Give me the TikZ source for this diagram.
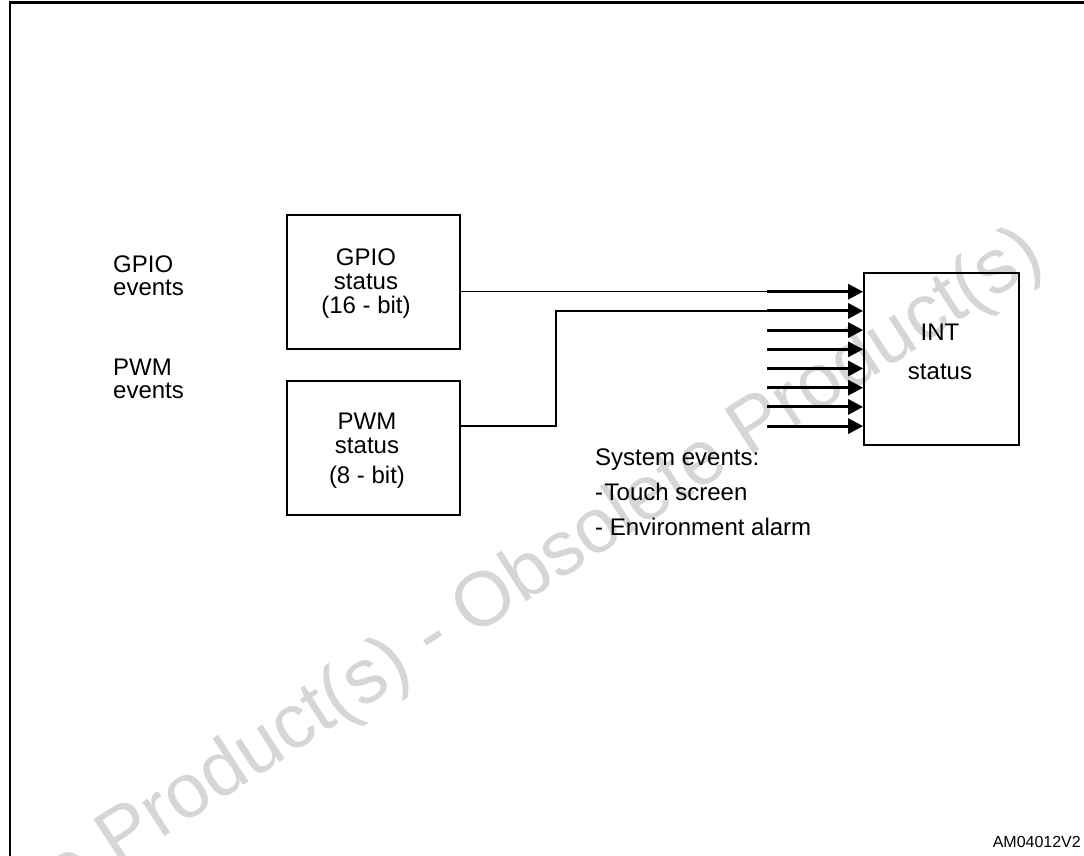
\documentclass[tikz,border=0pt]{standalone}
\usepackage{fontspec}
\setmainfont{Liberation Sans}
\usetikzlibrary{arrows.meta}
\begin{document}
\begin{tikzpicture}[x=1pt,y=-1pt,
  box/.style={draw,line width=1.8pt,minimum width=173pt,minimum height=134pt,inner sep=0pt},
  boxtext/.style={inner sep=0pt,align=center,font=\fontsize{24}{24}\selectfont},
  lbl/.style={inner sep=0pt,align=left,font=\fontsize{24}{23}\selectfont},
  thinline/.style={line width=1.4pt},
  evarrow/.style={line width=3pt,-{Triangle[length=15pt,width=15pt]}},
  wmark/.style={text=black!16,inner sep=0pt,font=\fontsize{77}{77}\selectfont}]
\useasboundingbox (0,0) rectangle (1084,855);
% watermark
\node[wmark,rotate=33,anchor=base east] (wm) at (1047,264) {Obsolete Product(s) - Obsolete Product(s)};
% frame
\draw[line width=2.6pt] (10,856) -- (10,2.7) -- (1085,2.7);
% boxes
\node[box] (gpio) at (373.4,282) {};
\node[boxtext] (gpiotxt) at (366,284) {GPIO\\status\\(16 - bit)};
\node[box] (pwm) at (373.4,448) {};
\node[boxtext] (pwmtxt) at (367,451) {PWM\\status\\[6pt](8 - bit)};
\node[box,minimum width=155pt,minimum height=172pt] (int) at (941.5,359) {};
\node[boxtext] (inttxt) at (940,352) {INT\\[15pt]status};
% labels
\node[lbl,anchor=west] (gev) at (113,276) {GPIO\\events};
\node[lbl,anchor=west] (pev) at (113,379) {PWM\\events};
\node[lbl,anchor=north west,font=\fontsize{24}{35}\selectfont] (sys) at (595,449) {System events:\\-\kern1.5pt Touch screen\\- Environment alarm};
\node[inner sep=0pt,anchor=east,font=\fontsize{16}{16}\selectfont] (code) at (1081,842) {AM04012V2};
% arrow start points
\foreach \i in {1,...,8}{
  \coordinate (a\i) at (767,{291.7+(\i-1)*19.2});
}
\coordinate (bend) at (556,426);
% connectors
\draw[thinline] (gpio.east |- a1) -- (a1);
\draw[thinline] (pwm.east |- bend) -- (bend) -- (bend |- a2) -- (a2);
\foreach \i in {1,...,8}{
  \draw[evarrow] (a\i) -- (int.west |- a\i);
}
\end{tikzpicture}
\end{document}
